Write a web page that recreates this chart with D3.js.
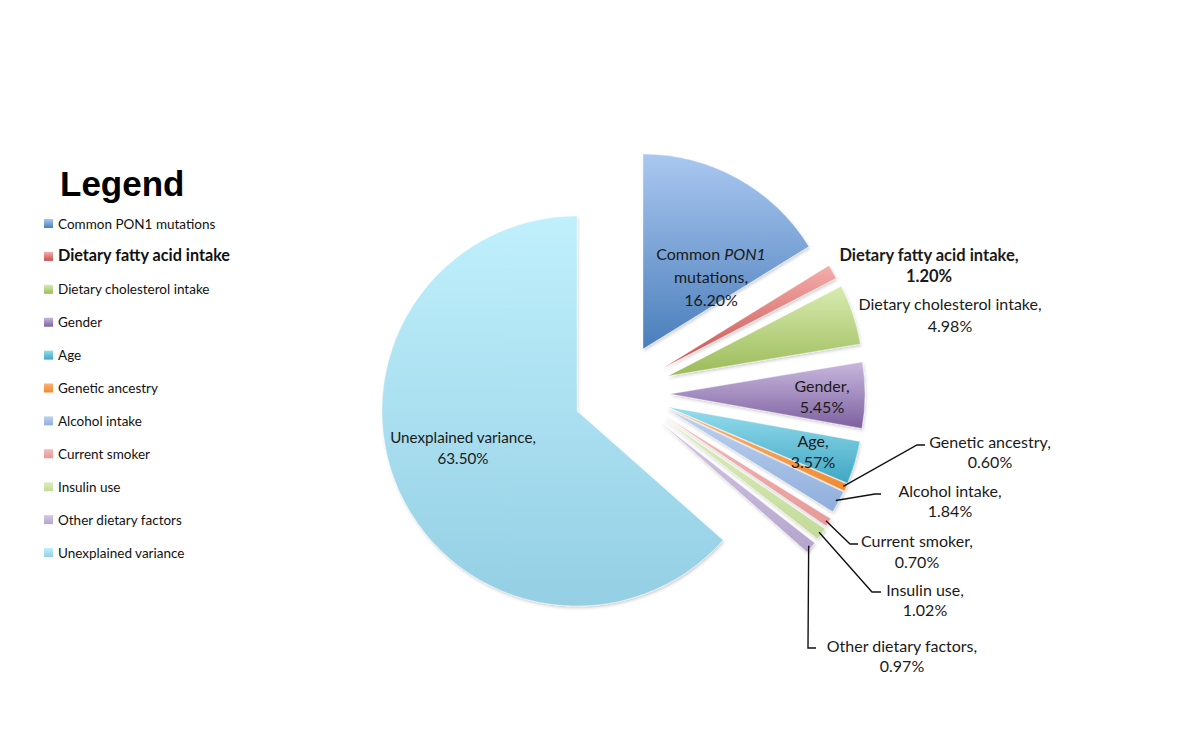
<!DOCTYPE html>
<html>
<head>
<meta charset="utf-8">
<script src="https://cdn.jsdelivr.net/npm/d3@7"></script>
<style>
  html, body { margin: 0; padding: 0; background: #ffffff; }
  svg { display: block; }
</style>
</head>
<body>
<div id="chart"></div>
<script>
// ---- data ----
const categories = [
  "Common PON1 mutations",
  "Dietary fatty acid intake",
  "Dietary cholesterol intake",
  "Gender",
  "Age",
  "Genetic ancestry",
  "Alcohol intake",
  "Current smoker",
  "Insulin use",
  "Other dietary factors",
  "Unexplained variance"
];
const values = [16.20, 1.20, 4.98, 5.45, 3.57, 0.60, 1.84, 0.70, 1.02, 0.97, 63.50];

// gradient colours per slice (top, bottom)
const topColors = ["#aac8f0", "#f4aeab", "#d9ebb0", "#c8b8dd", "#95dded", "#fbb272", "#bed2ef", "#f5bab8", "#ddeec0", "#d4c9e3", "#c0f0fc"];
const bottomColors = ["#4a7ebb", "#c9504c", "#9bbb59", "#7d60a0", "#3fa7c3", "#f08a30", "#8eaedb", "#e49a98", "#c3da98", "#b4a4cc", "#94cfe4"];

// how far each slice is pulled out (layout)
const explode = [[66, -62], [86, -43], [91, -35], [93, -17], [91, -4], [91, -3], [90, -2], [88, 5], [87, 8], [84, 12], [0, 0]];

// label layout: centre x, first baseline y, line gap
const labelAt = [
  [711, 260, 23], [929, 261, 21], [950, 310, 22], [822, 392, 21], [813, 447, 21],
  [990, 448, 20], [950, 497, 20], [917, 547, 21], [925, 596, 20], [902, 652, 20], [463, 443, 21]
];
// leader elbows for the thin slices: [elbowX, elbowY, endX]
const leaders = {5: [917, 445, 925], 6: [875, 494, 881], 7: [850, 544, 858], 8: [872, 592, 881], 9: [808, 648, 816]};

const width = 1200, height = 739;
const cx = 577, cy = 411, radius = 195;
const font = "Lato, 'Open Sans', sans-serif";

const svg = d3.select("#chart").append("svg")
  .attr("width", width)
  .attr("height", height);

const defs = svg.append("defs");

const shadow = defs.append("filter").attr("id", "shadow")
  .attr("x", "-10%").attr("y", "-10%").attr("width", "130%").attr("height", "130%");
shadow.append("feDropShadow")
  .attr("dx", 1).attr("dy", 2).attr("stdDeviation", 1.6)
  .attr("flood-color", "#000").attr("flood-opacity", 0.18);

categories.forEach((c, i) => {
  const g = defs.append("linearGradient").attr("id", "grad" + i)
    .attr("x1", 0).attr("y1", 0).attr("x2", 0).attr("y2", 1);
  g.append("stop").attr("offset", "0%").attr("stop-color", topColors[i]);
  g.append("stop").attr("offset", "100%").attr("stop-color", bottomColors[i]);
});

const data = categories.map((c, i) => ({name: c, value: values[i], i}));

const pie = d3.pie().sort(null).value(d => d.value);
const arc = d3.arc().innerRadius(0).outerRadius(radius);
const arcs = pie(data);

const pieG = svg.append("g").attr("transform", `translate(${cx},${cy})`);

pieG.selectAll("path.slice")
  .data(arcs)
  .join("path")
  .attr("class", "slice")
  .attr("transform", d => `translate(${explode[d.index][0]},${explode[d.index][1]})`)
  .attr("d", arc)
  .attr("fill", d => `url(#grad${d.index})`)
  .attr("stroke", "rgba(255,255,255,0.6)")
  .attr("stroke-width", 0.6)
  .attr("filter", "url(#shadow)");

// ---- labels ----
const fmt = d3.format(".2f");
const labelG = svg.append("g")
  .attr("font-family", font)
  .attr("font-size", 16)
  .attr("fill", "#1a1a1a")
  .attr("text-anchor", "middle");

arcs.forEach(d => {
  const i = d.index;
  const [lx, ly, gap] = labelAt[i];
  const t = labelG.append("text")
    .attr("x", lx).attr("y", ly)
    .attr("font-weight", i === 1 ? "bold" : null)
    .attr("font-size", i === 1 ? 16.5 : i === 10 ? 15.2 : null);
  if (i === 0) {
    const l1 = t.append("tspan").attr("x", lx).attr("y", ly);
    l1.append("tspan").text("Common ");
    l1.append("tspan").attr("font-style", "italic").text("PON1");
    t.append("tspan").attr("x", lx).attr("y", ly + gap).text("mutations,");
    t.append("tspan").attr("x", lx).attr("y", ly + gap * 2).text(fmt(d.data.value) + "%");
  } else {
    t.append("tspan").attr("x", lx).attr("y", ly).text(d.data.name + ",");
    t.append("tspan").attr("x", lx).attr("y", ly + gap).text(fmt(d.data.value) + "%");
  }

  if (leaders[i]) {
    const mid = (d.startAngle + d.endAngle) / 2;
    const r0 = radius - 3;
    const sx = cx + explode[i][0] + Math.sin(mid) * r0;
    const sy = cy + explode[i][1] - Math.cos(mid) * r0;
    const [ex, ey, endX] = leaders[i];
    svg.append("path")
      .attr("d", `M${sx},${sy}L${ex},${ey}L${endX},${ey}`)
      .attr("fill", "none")
      .attr("stroke", "#111")
      .attr("stroke-width", 1.4);
  }
});

// ---- legend ----
const legend = svg.append("g");
legend.append("text")
  .attr("x", 60).attr("y", 196)
  .attr("font-family", "'Liberation Sans', Arial, sans-serif")
  .attr("font-weight", "bold")
  .attr("font-size", 35)
  .attr("fill", "#000")
  .text("Legend");

const legendY = d3.scalePoint().domain(categories).range([224, 553]);

const items = legend.selectAll("g.item")
  .data(data)
  .join("g")
  .attr("class", "item")
  .attr("transform", d => `translate(0,${legendY(d.name)})`);

items.append("rect")
  .attr("x", 44).attr("y", -5)
  .attr("width", 9).attr("height", 9)
  .attr("fill", d => `url(#grad${d.i})`);

items.append("text")
  .attr("x", 58).attr("y", 4.5)
  .attr("font-family", font)
  .attr("font-size", d => d.i === 1 ? 16.2 : 13.5)
  .attr("font-weight", d => d.i === 1 ? "bold" : null)
  .attr("fill", "#111")
  .text(d => d.name);
</script>
</body>
</html>
